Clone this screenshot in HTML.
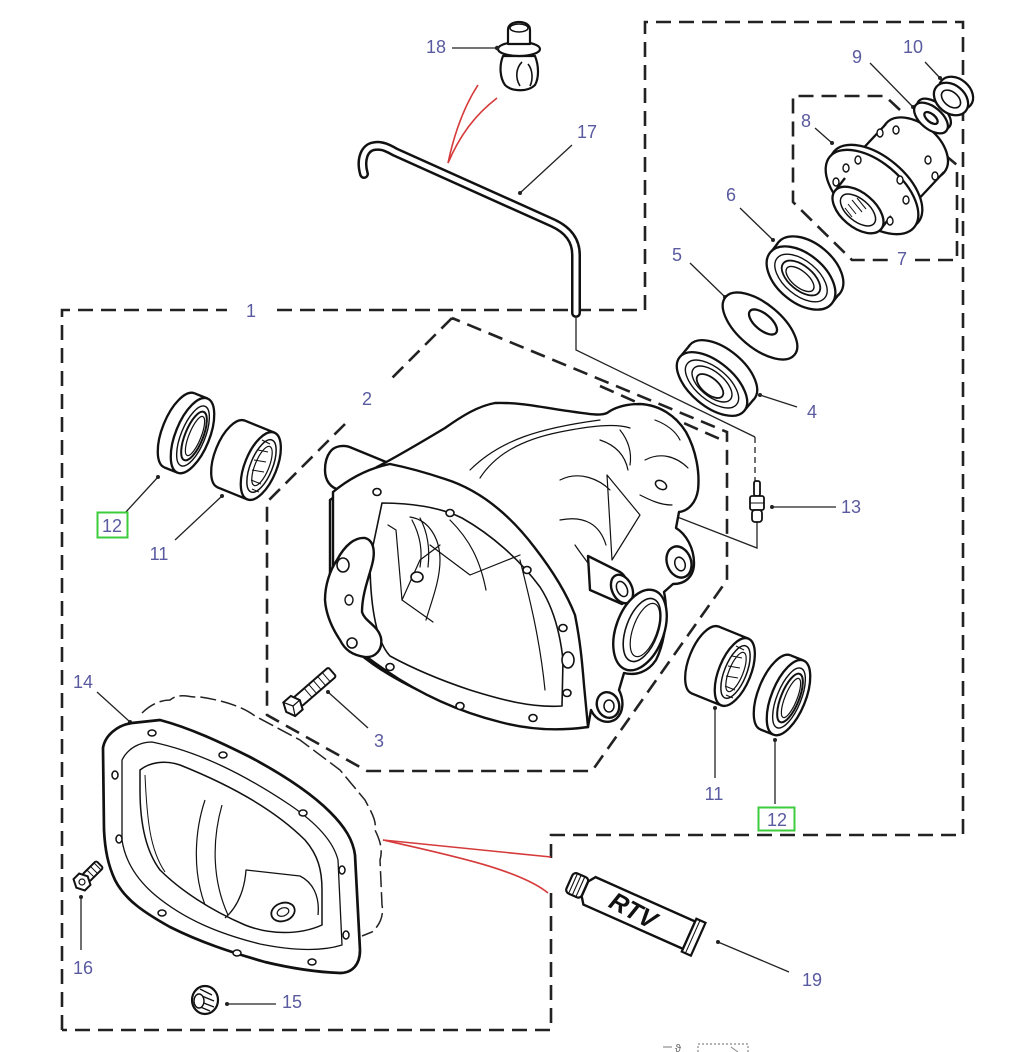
<!DOCTYPE html>
<html><head><meta charset="utf-8"><style>
html,body{margin:0;padding:0;background:#fff;}
svg{display:block;}
text{font-family:"Liberation Sans",sans-serif;}
</style></head><body>
<svg width="1010" height="1052" viewBox="0 0 1010 1052" xmlns="http://www.w3.org/2000/svg">
<rect width="1010" height="1052" fill="#fff"/>

<!-- dashed boundaries -->
<g fill="none" stroke="#222" stroke-width="2.6" stroke-dasharray="15 8">
<path d="M62,1030 L62,310 L227,310"/>
<path d="M277,310 L645,310 L645,22 L963,22 L963,835 L551,835 L551,858"/>
<path d="M551,893 L551,1030 L62,1030"/>
<path d="M452,318 L390,380 M345,424 L267,502 L267,715 L367,771 L592,771 L727,580 L727,432 L452,318"/>
<path d="M900,110 L885,96 L793,96 L793,202 L852,260 L890,260 M915,260 L957,260 L957,165 L945,155"/>
<path d="M600,386 L722,440" />
</g>

<!-- red lines -->
<g fill="none" stroke="#d63a3a" stroke-width="1.6">
<path d="M448,163 C455,130 465,105 478,85"/>
<path d="M448,163 C460,135 475,115 497,98"/>
<path d="M383,840 L551,857"/>
<path d="M383,840 C450,855 520,870 548,893"/>
</g>

<!-- tube 17 -->
<path d="M364,174 C360,160 364,147 375,146 C382,145 388,148 395,152 L553,223 C568,230 576,240 576,255 L576,313" fill="none" stroke="#111" stroke-width="10" stroke-linecap="round" stroke-linejoin="round"/>
<path d="M364,174 C360,160 364,147 375,146 C382,145 388,148 395,152 L553,223 C568,230 576,240 576,255 L576,313" fill="none" stroke="#fff" stroke-width="5" stroke-linecap="round" stroke-linejoin="round"/>

<!-- clip 18 -->
<g stroke="#111" stroke-width="2.2" fill="#fff" stroke-linejoin="round">
<path d="M503,56 C499,66 500,78 505,85 C512,92 528,92 535,85 C539,78 539,66 535,56 Z"/>
<path d="M522,62 C516,68 515,78 520,86" fill="none" stroke-width="1.6"/>
<path d="M528,64 C533,70 533,80 530,86" fill="none" stroke-width="1.6"/>
<ellipse cx="519" cy="49" rx="21" ry="7"/>
<path d="M508,44 L508,30 C508,24 514,22 519,22 C524,22 530,24 530,30 L530,44 Z"/>
<ellipse cx="519" cy="28" rx="9" ry="4" stroke-width="1.5"/>
</g>

<!-- leader lines -->
<g stroke="#222" stroke-width="1.3" fill="none">
<path d="M452,48 L497,48"/>
<path d="M572,145 L520,193"/>
<path d="M925,62 L940,78"/>
<path d="M870,63 L913,107"/>
<path d="M815,128 L832,143"/>
<path d="M740,208 L773,240"/>
<path d="M690,263 L725,297"/>
<path d="M760,395 L797,407"/>
<path d="M772,507 L836,507"/>
<path d="M125,513 L158,477"/>
<path d="M175,540 L222,496"/>
<path d="M97,692 L130,722"/>
<path d="M328,692 L368,728"/>
<path d="M715,708 L715,778"/>
<path d="M775,740 L775,804"/>
<path d="M81,897 L81,950"/>
<path d="M227,1004 L276,1004"/>
<path d="M718,942 L789,972"/>
<path d="M576,318 L576,350 L755,437"/>
<path d="M755,437 L755,482" stroke-dasharray="6 4"/>
<path d="M757,522 L757,548 L608,490"/>
</g>
<g fill="#222">
<circle cx="497" cy="48" r="2.2"/><circle cx="520" cy="193" r="2"/><circle cx="940" cy="78" r="2"/>
<circle cx="913" cy="107" r="2"/><circle cx="832" cy="143" r="2"/><circle cx="773" cy="240" r="2"/>
<circle cx="725" cy="297" r="2"/><circle cx="760" cy="395" r="2"/><circle cx="772" cy="507" r="2"/>
<circle cx="158" cy="477" r="2"/><circle cx="222" cy="496" r="2"/><circle cx="130" cy="722" r="2"/>
<circle cx="328" cy="692" r="2"/><circle cx="715" cy="708" r="2"/><circle cx="775" cy="740" r="2"/>
<circle cx="81" cy="897" r="2"/><circle cx="227" cy="1004" r="2"/><circle cx="718" cy="942" r="2"/>
</g>

<!-- pinion axis parts -->
<g stroke="#111" stroke-width="2.3" fill="#fff">
<!-- bearing 4 -->
<ellipse cx="722" cy="372" rx="42" ry="22" transform="rotate(40 722 372)"/>
<polygon points="754,399 690,345 680,357 744,411" stroke="none"/>
<path d="M754,399 L744,411 M690,345 L680,357" fill="none"/>
<ellipse cx="712" cy="384" rx="42" ry="22" transform="rotate(40 712 384)"/>
<ellipse cx="712" cy="384" rx="32" ry="16" transform="rotate(40 712 384)" stroke-width="1.4"/>
<ellipse cx="712" cy="384" rx="24" ry="12" transform="rotate(40 712 384)" stroke-width="1.4"/>
<ellipse cx="710" cy="386" rx="16" ry="8" transform="rotate(40 710 386)" stroke-width="1.8"/>
<!-- washer 5 -->
<ellipse cx="760" cy="326" rx="45" ry="22" transform="rotate(40 760 326)"/>
<ellipse cx="763" cy="322" rx="17" ry="8" transform="rotate(40 763 322)"/>
<!-- seal 6 -->
<ellipse cx="809" cy="268" rx="40" ry="24" transform="rotate(40 809 268)"/>
<polygon points="839,294 778,243 771,252 832,303" stroke="none"/>
<path d="M839,294 L832,303 M778,243 L771,252" fill="none"/>
<ellipse cx="801" cy="278" rx="40" ry="24" transform="rotate(40 801 278)"/>
<ellipse cx="801" cy="278" rx="31" ry="17" transform="rotate(40 801 278)" stroke-width="1.4"/>
<ellipse cx="801" cy="278" rx="23" ry="12" transform="rotate(40 801 278)" stroke-width="1.8"/>
<ellipse cx="800" cy="279" rx="17" ry="8" transform="rotate(40 800 279)" stroke-width="1.4"/>
<!-- flange 8 -->
<ellipse cx="915" cy="148" rx="38" ry="24" transform="rotate(40 915 148)"/>
<polygon points="944,172 886,124 856,156 914,204" stroke="none"/>
<path d="M944,172 L914,204 M886,124 L856,156" fill="none"/>
<ellipse cx="876" cy="187" rx="55" ry="30" transform="rotate(40 876 187)"/>
<ellipse cx="872" cy="192" rx="55" ry="30" transform="rotate(40 872 192)"/>
<polygon points="891,216 845,178 835,191 881,229" stroke="none"/>
<path d="M891,216 L881,229 M845,178 L835,191" fill="none"/>
<ellipse cx="858" cy="210" rx="30" ry="17" transform="rotate(40 858 210)"/>
<ellipse cx="858" cy="210" rx="21" ry="11" transform="rotate(40 858 210)" stroke-width="1.5"/>
<path d="M848,204 L856,214 M852,200 L862,212 M857,198 L866,209 M845,208 L852,217" stroke-width="1" fill="none"/>
<g stroke-width="1.4">
<ellipse cx="846" cy="168" rx="3" ry="4"/><ellipse cx="858" cy="160" rx="3" ry="4"/><ellipse cx="900" cy="180" rx="3" ry="4"/>
<ellipse cx="906" cy="200" rx="3" ry="4"/><ellipse cx="890" cy="221" rx="3" ry="4"/><ellipse cx="836" cy="182" rx="3" ry="4"/>
<ellipse cx="880" cy="133" rx="3" ry="4"/><ellipse cx="896" cy="130" rx="3" ry="4"/><ellipse cx="928" cy="160" rx="3" ry="4"/>
<ellipse cx="935" cy="176" rx="3" ry="4"/>
</g>
<!-- washer 9 -->
<ellipse cx="934" cy="114" rx="20" ry="11" transform="rotate(40 934 114)"/>
<ellipse cx="931" cy="118" rx="20" ry="11" transform="rotate(40 931 118)"/>
<ellipse cx="931" cy="118" rx="8" ry="4" transform="rotate(40 931 118)"/>
<!-- nut 10 -->
<ellipse cx="956" cy="93" rx="19" ry="14" transform="rotate(40 956 93)"/>
<ellipse cx="951" cy="99" rx="19" ry="14" transform="rotate(40 951 99)"/>
<ellipse cx="951" cy="99" rx="11" ry="7" transform="rotate(40 951 99)" stroke-width="1.6"/>
</g>

<!-- axle seals/bearings -->
<g stroke="#111" stroke-width="2.3" fill="#fff">
<!-- left seal 12 -->
<ellipse cx="179.5" cy="430.4" rx="17" ry="40" transform="rotate(22 179.5 430.4)"/>
<polygon points="164.5,467.5 194.5,393.3 207.5,398.5 177.5,472.7" stroke="none"/>
<path d="M164.5,467.5 L177.5,472.7 M194.5,393.3 L207.5,398.5" fill="none"/>
<ellipse cx="192.5" cy="435.6" rx="17" ry="40" transform="rotate(22 192.5 435.6)"/>
<ellipse cx="193" cy="436" rx="12" ry="32" transform="rotate(22 193 436)" stroke-width="1.4"/>
<ellipse cx="194" cy="436" rx="9" ry="26" transform="rotate(22 194 436)" stroke-width="2"/>
<ellipse cx="195" cy="436" rx="6" ry="21" transform="rotate(22 195 436)" stroke-width="1.2"/>
<!-- left bearing 11 -->
<ellipse cx="231.2" cy="454" rx="16" ry="36" transform="rotate(22 231.2 454)"/>
<polygon points="217.7,487.4 244.7,420.6 274.3,432.6 247.3,499.4" stroke="none"/>
<path d="M217.7,487.4 L247.3,499.4 M244.7,420.6 L274.3,432.6" fill="none"/>
<ellipse cx="260.8" cy="466" rx="16" ry="36" transform="rotate(22 260.8 466)"/>
<ellipse cx="261.5" cy="466" rx="11" ry="28" transform="rotate(22 261.5 466)" stroke-width="1.5"/>
<ellipse cx="262" cy="466" rx="7" ry="21" transform="rotate(22 262 466)" stroke-width="1.2"/>
<path d="M262,440 L270,444 M258,450 L268,452 M254,460 L266,462 M252,470 L264,472 M251,480 L261,484 M252,489 L259,492" stroke-width="1" fill="none"/>
<!-- right bearing 11 -->
<ellipse cx="705.2" cy="660" rx="16" ry="36" transform="rotate(22 705.2 660)"/>
<polygon points="691.7,693.4 718.7,626.6 748.3,638.6 721.3,705.4" stroke="none"/>
<path d="M691.7,693.4 L721.3,705.4 M718.7,626.6 L748.3,638.6" fill="none"/>
<ellipse cx="734.8" cy="672" rx="16" ry="36" transform="rotate(22 734.8 672)"/>
<ellipse cx="735.5" cy="672" rx="11" ry="28" transform="rotate(22 735.5 672)" stroke-width="1.5"/>
<ellipse cx="736" cy="672" rx="7" ry="21" transform="rotate(22 736 672)" stroke-width="1.2"/>
<path d="M736,646 L744,650 M732,656 L742,658 M728,666 L740,668 M726,676 L738,678 M725,686 L735,690 M726,695 L733,698" stroke-width="1" fill="none"/>
<!-- right seal 12 -->
<ellipse cx="775.5" cy="692.4" rx="17" ry="40" transform="rotate(22 775.5 692.4)"/>
<polygon points="760.5,729.5 790.5,655.3 803.5,660.5 773.5,734.7" stroke="none"/>
<path d="M760.5,729.5 L773.5,734.7 M790.5,655.3 L803.5,660.5" fill="none"/>
<ellipse cx="788.5" cy="697.6" rx="17" ry="40" transform="rotate(22 788.5 697.6)"/>
<ellipse cx="789" cy="698" rx="12" ry="32" transform="rotate(22 789 698)" stroke-width="1.4"/>
<ellipse cx="790" cy="698" rx="9" ry="26" transform="rotate(22 790 698)" stroke-width="2"/>
<ellipse cx="791" cy="698" rx="6" ry="21" transform="rotate(22 791 698)" stroke-width="1.2"/>
</g>

<!-- housing -->
<g stroke="#111" stroke-width="2.4" fill="#fff" stroke-linejoin="round" stroke-linecap="round">
<path d="M330,452 C334,446 344,444 352,448 L386,462 L384,492 L340,490 C330,488 325,480 325,470 C325,462 327,456 330,452 Z"/>
<path d="M377,467 C400,455 425,440 445,428 C462,416 478,406 495,403 C520,402 545,408 575,412 C590,414 600,416 607,413 C614,408 625,404 640,404 C660,405 676,416 686,432 C696,450 700,472 698,490 C696,503 688,511 679,512 L676,528 C686,534 694,548 694,563 C694,576 686,584 673,584 L664,592 C668,610 666,640 656,660 C648,672 636,676 624,673 L619,690 C624,700 624,712 616,719 C607,725 596,721 591,710 L588,727 L560,729 C520,728 480,717 440,700 C400,683 370,665 350,645 L330,600 L330,500 Z"/>
<g fill="none" stroke-width="1.2">
<path d="M480,478 C495,455 520,440 560,432 C590,426 615,423 630,428"/>
<path d="M470,470 C500,440 540,428 600,420"/>
<path d="M607,475 L612,560 L640,515 Z"/>
<path d="M600,440 C615,445 625,455 628,470"/>
<path d="M645,460 C660,452 676,456 688,468"/>
<path d="M640,495 C650,500 660,505 672,505"/>
<path d="M560,480 C580,470 600,480 610,490"/>
<path d="M560,520 C585,515 600,525 606,545"/>
<path d="M575,545 C585,560 595,570 600,585"/>
<path d="M620,430 C628,440 632,452 630,465"/>
<path d="M655,420 C668,425 676,432 680,440"/>
</g>
<ellipse cx="661" cy="485" rx="6" ry="4" transform="rotate(30 661 485)" stroke-width="1.5"/>
<!-- pinion tube nose -->
<path d="M588,556 L620,572 C630,578 632,598 622,604 L590,590 Z"/>
<ellipse cx="622" cy="589" rx="10" ry="15" transform="rotate(-25 622 589)"/>
<ellipse cx="622" cy="589" rx="5" ry="8" transform="rotate(-25 622 589)" stroke-width="1.5"/>
<!-- side bosses -->
<ellipse cx="679" cy="562" rx="12" ry="16" transform="rotate(-20 679 562)"/>
<ellipse cx="680" cy="564" rx="5" ry="7" transform="rotate(-20 680 564)" stroke-width="1.5"/>
<ellipse cx="640" cy="630" rx="24" ry="42" transform="rotate(20 640 630)"/>
<ellipse cx="642" cy="630" rx="16" ry="33" transform="rotate(20 642 630)" stroke-width="1.6"/>
<ellipse cx="645" cy="630" rx="12" ry="28" transform="rotate(20 645 630)" stroke-width="1.2"/>
<ellipse cx="608" cy="705" rx="11" ry="13" transform="rotate(-20 608 705)"/>
<ellipse cx="609" cy="706" rx="5" ry="6" stroke-width="1.5"/>
<!-- flange -->
<path d="M333,492 C350,478 370,468 390,464 C410,468 430,474 445,479 C480,490 510,515 535,548 C552,570 566,592 575,615 C580,640 582,660 584,685 L588,727 C560,731 530,730 500,722 C460,712 420,694 385,670 C365,656 345,642 333,625 Z"/>
<path d="M382,503 C410,503 440,507 462,518 C492,535 520,560 540,587 C553,607 560,632 563,660 L562,706 C532,708 502,700 470,690 C440,680 412,668 390,656 C375,640 370,600 370,560 Z" stroke-width="1.6"/>
<g fill="none" stroke-width="1.2">
<path d="M388,525 L396,530 L402,600 L433,622"/>
<path d="M402,600 L420,560 L440,545"/>
<path d="M410,517 C430,520 440,540 440,560 C440,580 432,600 426,620"/>
<path d="M430,545 L470,575 L520,555"/>
<path d="M450,520 C470,540 480,560 486,590"/>
<path d="M520,560 C530,600 540,640 545,690"/>
<path d="M412,520 C420,535 423,550 420,567"/>
<path d="M420,518 C428,533 430,550 428,567"/>
</g>
<ellipse cx="417" cy="577" rx="6" ry="5" stroke-width="1.6"/>
<g stroke-width="1.6">
<ellipse cx="377" cy="492" rx="4" ry="3.5"/><ellipse cx="450" cy="513" rx="4" ry="3.5"/>
<ellipse cx="527" cy="570" rx="4" ry="3.5"/><ellipse cx="563" cy="628" rx="4" ry="3.5"/>
<ellipse cx="568" cy="660" rx="6" ry="8"/><ellipse cx="567" cy="693" rx="4" ry="3.5"/>
<ellipse cx="533" cy="718" rx="4" ry="3.5"/><ellipse cx="460" cy="706" rx="4" ry="3.5"/>
<ellipse cx="390" cy="667" rx="4" ry="3.5"/>
</g>
<!-- left bracket -->
<path d="M337,560 C345,545 355,537 365,538 C373,540 376,550 372,565 C368,580 362,595 362,612 C365,622 378,625 381,638 C383,650 375,658 365,657 C352,655 345,650 340,640 C332,628 326,615 325,600 C325,585 330,570 337,560 Z"/>
<ellipse cx="343" cy="565" rx="6" ry="7" stroke-width="1.6"/>
<ellipse cx="349" cy="600" rx="4" ry="5" stroke-width="1.4"/>
<ellipse cx="352" cy="643" rx="5" ry="5" stroke-width="1.6"/>
</g>

<!-- bolt 3 -->
<g transform="translate(293,706) rotate(-41)" stroke="#111" stroke-width="2" fill="#fff">
<rect x="6" y="-6" width="46" height="12" rx="2"/>
<path d="M20,-6 L20,6 M26,-6 L26,6 M32,-6 L32,6 M38,-6 L38,6 M44,-6 L44,6" stroke-width="1"/>
<polygon points="-9,0 -5,-9 5,-9 9,0 5,9 -5,9"/>
<path d="M-5,-9 L0,0 L-5,9 M0,0 L9,0" stroke-width="1.2" fill="none"/>
</g>

<!-- gasket outline -->
<path d="M142,713 C150,705 160,700 170,700 C180,692 190,698 200,697 C220,700 240,705 255,716 L300,740 L340,770 L365,800 C370,810 377,820 375,830 C380,840 383,850 380,860 L382,905 C384,915 380,925 372,932 L362,936" fill="none" stroke="#222" stroke-width="1.5" stroke-dasharray="16 5"/>

<!-- cover 14 -->
<g stroke="#111" fill="#fff" stroke-linejoin="round">
<path d="M103,748 C105,735 118,725 132,723 L160,720 C190,728 220,742 250,757 C280,773 310,792 330,812 C345,827 353,840 355,855 L360,950 C360,965 352,973 340,973 C315,972 290,968 265,962 C230,952 200,942 170,927 C145,913 125,900 115,880 C108,865 105,850 104,830 Z" stroke-width="2.7"/>
<path d="M122,760 C128,748 140,742 152,742 C200,752 245,775 290,805 C315,822 333,840 338,860 L342,945 C320,952 290,950 260,944 C220,934 185,920 155,895 C135,878 125,860 122,840 Z" stroke-width="1.3" fill="none"/>
<path d="M140,770 C150,762 165,760 180,765 C230,785 275,810 305,840 C318,855 322,870 322,890 L322,925 C300,935 270,935 245,925 C210,910 180,890 160,870 C145,850 140,820 140,790 Z" stroke-width="1.5" fill="none"/>
<path d="M145,775 C147,820 150,850 165,872" stroke-width="1" fill="none"/>
<path d="M205,800 C195,830 192,870 205,905" stroke-width="1.2" fill="none"/>
<path d="M222,805 C212,840 212,880 228,915" stroke-width="1.2" fill="none"/>
<path d="M225,918 C240,905 245,885 246,870 L300,876 C312,882 320,895 318,915" stroke-width="1.3" fill="none"/>
<ellipse cx="283" cy="912" rx="12" ry="9" transform="rotate(-20 283 912)" stroke-width="1.8"/>
<ellipse cx="283" cy="912" rx="6" ry="4" transform="rotate(-20 283 912)" stroke-width="1.2"/>
<g stroke-width="1.5">
<ellipse cx="152" cy="733" rx="4" ry="3"/><ellipse cx="223" cy="755" rx="4" ry="3"/>
<ellipse cx="115" cy="775" rx="3" ry="4"/><ellipse cx="119" cy="839" rx="3" ry="4"/>
<ellipse cx="303" cy="813" rx="4" ry="3"/><ellipse cx="342" cy="870" rx="3" ry="4"/>
<ellipse cx="346" cy="935" rx="3" ry="4"/><ellipse cx="162" cy="913" rx="4" ry="3"/>
<ellipse cx="237" cy="953" rx="4" ry="3"/><ellipse cx="312" cy="962" rx="4" ry="3"/>
</g>
</g>

<!-- bolt 16 -->
<g transform="translate(82,882) rotate(-45)" stroke="#111" stroke-width="2" fill="#fff">
<rect x="5" y="-5" width="20" height="10" rx="2"/>
<path d="M12,-5 L12,5 M17,-5 L17,5 M22,-5 L22,5" stroke-width="1"/>
<polygon points="-8,0 -4,-8 4,-8 8,0 4,8 -4,8"/>
<circle cx="0" cy="0" r="3" stroke-width="1.2"/>
</g>

<!-- plug 15 -->
<g stroke="#111" fill="#fff">
<ellipse cx="205" cy="1000" rx="13" ry="14" stroke-width="2.2"/>
<path d="M200,989 L212,995 M197,994 L214,1001 M196,1000 L214,1007 M198,1006 L210,1011" stroke-width="1.3"/>
<ellipse cx="199" cy="1001" rx="5" ry="7" stroke-width="1.4"/>
</g>

<!-- breather 13 -->
<g stroke="#111" fill="#fff" stroke-width="1.8">
<rect x="754" y="481" width="6" height="15" rx="2"/>
<rect x="750" y="496" width="14" height="14" rx="2"/>
<path d="M750,503 L764,503" stroke-width="1"/>
<rect x="752" y="510" width="10" height="12" rx="3"/>
</g>

<!-- RTV tube -->
<g transform="translate(637,912) rotate(24)" stroke="#111" fill="#fff">
<rect x="-74" y="-11" width="17" height="22" rx="4" stroke-width="2.2"/>
<path d="M-70,-10 L-70,10 M-66,-11 L-66,11 M-62,-11 L-62,11" stroke-width="1.1"/>
<path d="M-57,-8 L-52,-15 L57,-15 L57,15 L-52,15 L-57,8 Z" stroke-width="2.4"/>
<rect x="57" y="-18" width="10" height="36" stroke-width="2.2"/>
<path d="M61,-18 L61,18" stroke-width="1"/>
<text x="-4" y="9" text-anchor="middle" font-size="25" font-weight="bold" font-style="italic" fill="#111" stroke="none" transform="rotate(4)">RTV</text>
</g>

<!-- labels -->
<g fill="#5a5aa0" font-size="18" text-anchor="middle">
<text x="436" y="53">18</text>
<text x="587" y="138">17</text>
<text x="913" y="53">10</text>
<text x="857" y="63">9</text>
<text x="806" y="127">8</text>
<text x="731" y="201">6</text>
<text x="677" y="261">5</text>
<text x="902" y="265">7</text>
<text x="251" y="317">1</text>
<text x="367" y="405">2</text>
<text x="812" y="418">4</text>
<text x="851" y="513">13</text>
<text x="159" y="560">11</text>
<text x="83" y="688">14</text>
<text x="379" y="747">3</text>
<text x="714" y="800">11</text>
<text x="83" y="974">16</text>
<text x="292" y="1008">15</text>
<text x="812" y="986">19</text>
</g>
<!-- boxed 12 -->
<rect x="97.5" y="512.5" width="30" height="25" fill="#fff" stroke="#3ccc3c" stroke-width="2"/>
<text x="112" y="532" text-anchor="middle" font-size="18" fill="#5a5aa0">12</text>
<rect x="758.5" y="807.5" width="36" height="23" fill="#fff" stroke="#3ccc3c" stroke-width="2"/>
<text x="777" y="826" text-anchor="middle" font-size="18" fill="#5a5aa0">12</text>

<!-- bottom artifact -->
<path d="M663,1047 L672,1047" stroke="#777" stroke-width="1"/>
<text x="678" y="1052" font-size="11" fill="#666" text-anchor="middle">ϑ</text>
<path d="M698,1052 L698,1044 L748,1044 L748,1052" fill="none" stroke="#888" stroke-width="1.2" stroke-dasharray="2 2"/>
<path d="M731,1047 L738,1052" stroke="#888" stroke-width="1"/>
</svg>
</body></html>
